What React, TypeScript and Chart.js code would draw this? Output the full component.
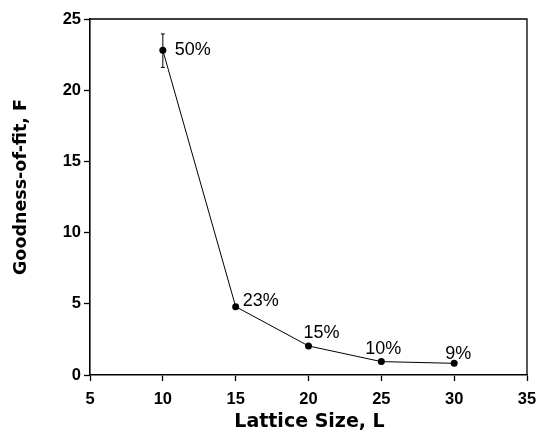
import React, { useEffect, useRef } from "react";
import { Chart, registerables } from "chart.js";

Chart.register(...registerables);

// Lattice size vs. goodness-of-fit
const latticeSizes = [10, 15, 20, 25, 30];
const goodnessOfFit = [22.8, 4.8, 2.04, 0.94, 0.82];
const errLow = [21.6, null, null, null, null];
const errHigh = [23.95, null, null, null, null];
const percentLabels = ["50%", "23%", "15%", "10%", "9%"];

const xTicks = [5, 10, 15, 20, 25, 30, 35];
const yTicks = [0, 5, 10, 15, 20, 25];

const xTitle = "Lattice Size, L";
const yTitle = "Goodness-of-fit, F";

const SANS = "'Liberation Sans', Arial, Helvetica, sans-serif";
const WIDE = "'DejaVu Sans', 'Liberation Sans', sans-serif";

// Label offsets from each point, left-aligned: [dx, dy]
const labelOffsets: [number, number][] = [
  [12, 0],
  [7, -6],
  [-5, -12.5],
  [-16, -12.5],
  [-9, -9.5],
];

const framePlugin = {
  id: "frame",
  afterDraw(chart: any) {
    const { ctx, chartArea } = chart;
    ctx.save();
    ctx.strokeStyle = "#000";
    ctx.lineWidth = 1.3;
    ctx.beginPath();
    ctx.moveTo(chartArea.left, chartArea.top);
    ctx.lineTo(chartArea.right, chartArea.top);
    ctx.lineTo(chartArea.right, chartArea.bottom);
    ctx.stroke();
    ctx.restore();
  },
};

const axisTitlePlugin = {
  id: "axisTitles",
  afterDraw(chart: any) {
    const { ctx, chartArea } = chart;
    ctx.save();
    ctx.fillStyle = "#000";
    ctx.textAlign = "center";
    ctx.textBaseline = "middle";
    ctx.font = `bold 19px ${WIDE}`;
    ctx.fillText(xTitle, (chartArea.left + chartArea.right) / 2 + 1, chartArea.bottom + 47);
    ctx.translate(21, (chartArea.top + chartArea.bottom) / 2 - 10);
    ctx.rotate(-Math.PI / 2);
    ctx.font = `bold 17.5px ${WIDE}`;
    ctx.fillText(yTitle, 0, 0);
    ctx.restore();
  },
};

const errorBarPlugin = {
  id: "errorBars",
  afterDatasetsDraw(chart: any) {
    const { ctx, scales } = chart;
    ctx.save();
    ctx.strokeStyle = "#000";
    ctx.lineWidth = 1;
    latticeSizes.forEach((x, i) => {
      const lo = errLow[i];
      const hi = errHigh[i];
      if (lo == null || hi == null) return;
      const px = scales.x.getPixelForValue(x);
      const y1 = scales.y.getPixelForValue(lo);
      const y2 = scales.y.getPixelForValue(hi);
      ctx.beginPath();
      ctx.moveTo(px, y1);
      ctx.lineTo(px, y2);
      ctx.moveTo(px - 2, y1);
      ctx.lineTo(px + 2, y1);
      ctx.moveTo(px - 2, y2);
      ctx.lineTo(px + 2, y2);
      ctx.stroke();
    });
    ctx.restore();
  },
};

const pointLabelPlugin = {
  id: "pointLabels",
  afterDatasetsDraw(chart: any) {
    const { ctx, scales } = chart;
    ctx.save();
    ctx.fillStyle = "#000";
    ctx.font = `18px ${SANS}`;
    ctx.textBaseline = "middle";
    ctx.textAlign = "left";
    latticeSizes.forEach((x, i) => {
      const [dx, dy] = labelOffsets[i];
      const px = scales.x.getPixelForValue(x);
      const py = scales.y.getPixelForValue(goodnessOfFit[i]);
      ctx.fillText(percentLabels[i], px + dx, py + dy);
    });
    ctx.restore();
  },
};

export default function App() {
  const canvasRef = useRef<HTMLCanvasElement | null>(null);

  useEffect(() => {
    document.body.style.margin = "0";
    const canvas = canvasRef.current;
    if (!canvas) return;
    const chart = new Chart(canvas, {
      type: "line",
      data: {
        datasets: [
          {
            data: latticeSizes.map((x, i) => ({ x, y: goodnessOfFit[i] })),
            borderColor: "#000",
            borderWidth: 1,
            backgroundColor: "#000",
            pointRadius: 3.5,
            pointBackgroundColor: "#000",
            pointBorderWidth: 0,
            tension: 0,
          },
        ],
      },
      options: {
        animation: false,
        responsive: false,
        maintainAspectRatio: false,
        layout: { padding: { top: 19, right: 21, left: 0, bottom: 0 } },
        plugins: {
          legend: { display: false },
          tooltip: { enabled: false },
        },
        scales: {
          x: {
            type: "linear",
            min: 5,
            max: 35,
            afterBuildTicks: (axis: any) => {
              axis.ticks = xTicks.map((v) => ({ value: v }));
            },
            afterFit: (axis: any) => {
              axis.height = 61;
            },
            grid: {
              drawOnChartArea: false,
              drawTicks: true,
              tickLength: 6,
              tickColor: "#000",
              tickWidth: 1.3,
            },
            border: { display: true, color: "#000", width: 1.6 },
            ticks: {
              color: "#000",
              font: { family: SANS, size: 16.5, weight: "bold" },
              padding: 9,
              maxRotation: 0,
            },
          },
          y: {
            type: "linear",
            min: 0,
            max: 25,
            afterBuildTicks: (axis: any) => {
              axis.ticks = yTicks.map((v) => ({ value: v }));
            },
            afterFit: (axis: any) => {
              axis.width = 90;
            },
            grid: {
              drawOnChartArea: false,
              drawTicks: true,
              tickLength: 6,
              tickColor: "#000",
              tickWidth: 1.3,
            },
            border: { display: true, color: "#000", width: 1.6 },
            ticks: {
              color: "#000",
              font: { family: SANS, size: 16.5, weight: "bold" },
              padding: 3,
            },
          },
        },
      },
      plugins: [framePlugin, errorBarPlugin, pointLabelPlugin, axisTitlePlugin],
    });
    return () => chart.destroy();
  }, []);

  return (
    <div style={{ position: "relative", width: 548, height: 436, background: "#fff" }}>
      <canvas ref={canvasRef} width={548} height={436} style={{ display: "block" }} />
    </div>
  );
}
